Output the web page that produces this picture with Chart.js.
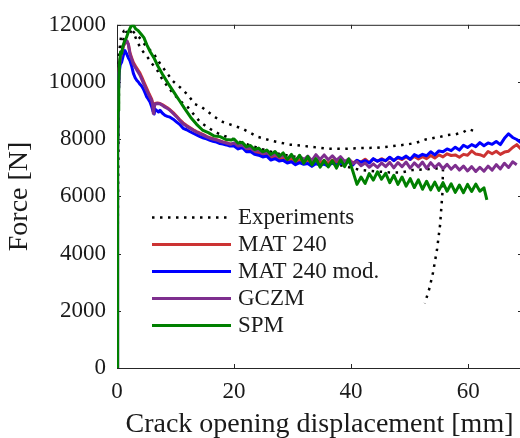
<!DOCTYPE html>
<html>
<head>
<meta charset="utf-8">
<script src="https://cdn.jsdelivr.net/npm/chart.js@4.4.0/dist/chart.umd.min.js"></script>
<style>
  html, body { margin: 0; padding: 0; background: #fff; overflow: hidden; }
  #wrap { width: 524px; height: 438px; }
</style>
</head>
<body>
<div id="wrap"><canvas id="chartForce" width="524" height="438"></canvas></div>
<script>
/* ---------------------------------- data ---------------------------------- */
// crack opening displacement [mm] / force [N]
const xTicks = [0, 20, 40, 60];
const yTicks = [0, 2000, 4000, 6000, 8000, 10000, 12000];

const expUpperD = [0, 0.15, 0.35, 0.8, 1.6, 2.6, 3.8, 4.9, 6.3, 7.5, 8.6, 9.45, 10.8, 12.0, 13.3,
  14.5, 15.6, 16.75, 18.1, 19.7, 21.4, 24.1, 26.7, 29.6, 32.1, 35.8, 38.6, 41.5, 44.4, 47.2,
  49.7, 51.2, 52.9, 55.2, 56.4, 57.8, 59.2, 60.0, 61.2];
const expUpperF = [0, 5500, 10200, 11350, 11750, 11790, 11560, 11270, 10980, 10600, 10300, 10050, 9810, 9570, 9230,
  9120, 8950, 8770, 8600, 8490, 8370, 8080, 7930, 7810, 7760, 7670, 7660, 7690, 7700, 7760,
  7820, 7880, 8000, 8080, 8140, 8170, 8250, 8350, 8280];

const expLowerD = [0, 0.1, 0.2, 0.34, 0.7, 1.2, 2.0, 2.9, 3.5, 4.3, 5.2, 6.0, 6.9, 7.7, 8.8,
  9.9, 11.0, 12.1, 13.2, 14.2, 15.9, 17.3, 18.8, 21, 24, 27, 30, 33, 36, 39,
  41.5, 44, 46.5, 48.5, 50.5, 52.9, 54.5, 55.7, 55.6, 55.2, 54.7, 54.0, 53.4, 52.6];
const expLowerF = [0, 5000, 9500, 11000, 11600, 11790, 11800, 11690, 11390, 11100, 10870, 10640, 10400, 10110, 9800,
  9530, 9300, 9120, 8850, 8600, 8360, 8200, 8080, 7900, 7700, 7520, 7400, 7300, 7180, 7050,
  6930, 6880, 6840, 6830, 6920, 6950, 6980, 6970, 6110, 5000, 4170, 3340, 2800, 2260];

// MAT 240 and GCZM share the same displacement steps before 20 mm
const headD = [0, 0.05, 0.1, 0.15, 0.2, 0.35, 0.55, 0.8, 1.08, 1.4, 1.7, 1.95, 2.22, 2.5, 2.8,
  3.2, 3.64, 3.9, 4.22, 4.6, 5.08, 5.5, 5.93, 6.1, 6.2, 6.3, 6.5, 6.9, 7.35, 7.8,
  8.2, 8.6, 9.06, 9.6, 10.2, 10.7, 11.3, 11.9, 12.5, 13.04, 13.6, 14.2, 14.75, 15.3, 15.9,
  16.5, 17.04, 17.6, 18.2, 18.8, 19.4];
const mat240HeadF = [0, 2500, 5000, 7500, 9300, 10400, 10800, 11000, 11250, 11380, 11420, 11320, 11020, 10850, 10680,
  10540, 10400, 10320, 10180, 10000, 9780, 9580, 9400, 9260, 8960, 9080, 9250, 9270, 9250, 9200,
  9150, 9100, 9030, 8930, 8800, 8690, 8570, 8480, 8400, 8330, 8270, 8210, 8160, 8100, 8050,
  8010, 7980, 7940, 7900, 7870, 7830];
const gczmHeadF = [0, 2500, 5000, 7500, 9300, 10400, 10800, 11000, 11250, 11400, 11440, 11300, 10970, 10800, 10620,
  10480, 10335, 10250, 10100, 9920, 9700, 9520, 9350, 9200, 8900, 9050, 9235, 9250, 9235, 9180,
  9120, 9080, 9006, 8900, 8780, 8660, 8540, 8450, 8380, 8310, 8250, 8190, 8140, 8080, 8030,
  8000, 7966, 7930, 7890, 7860, 7820];

const modHeadD = [0, 0.05, 0.1, 0.15, 0.2, 0.35, 0.55, 0.8, 1.1, 1.37, 1.65, 1.93, 2.2, 2.5, 2.8,
  3.1, 3.37, 3.65, 3.93, 4.2, 4.5, 4.8, 5.08, 5.35, 5.64, 5.9, 6.2, 6.35, 6.5, 6.8,
  7.1, 7.35, 7.8, 8.2, 8.6, 9.06, 9.6, 10.2, 10.7, 11.3, 11.9, 12.5, 13.1, 13.6, 14.2,
  14.8, 15.3, 15.9, 16.4, 17.0, 17.6, 18.1, 18.7, 19.3];
const modHeadF = [0, 2500, 5000, 7500, 9300, 10300, 10600, 10700, 10950, 11100, 10980, 10850, 10750, 10560, 10300,
  10150, 10060, 10000, 9920, 9860, 9760, 9620, 9480, 9400, 9300, 9150, 8960, 8880, 9050, 9000,
  8950, 9010, 8900, 8830, 8800, 8770, 8700, 8600, 8520, 8380, 8330, 8260, 8200, 8150, 8090,
  8040, 8010, 7960, 7930, 7900, 7850, 7830, 7800, 7760];

const spmHeadD = [0, 0.05, 0.1, 0.15, 0.2, 0.3, 0.45, 0.6, 0.8, 1.0, 1.3, 1.6, 2.0, 2.4, 2.8,
  3.2, 3.6, 4.1, 4.6, 5.1, 5.7, 6.3, 7.0, 7.8, 8.7, 9.6, 10.6, 11.6, 12.6, 13.6,
  14.6, 15.6, 16.6, 17.6, 18.6, 19.5];
const spmHeadF = [0, 2500, 5000, 7500, 9000, 10000, 10700, 11050, 11000, 11250, 11430, 11550, 11780, 11950, 11990,
  11850, 11800, 11680, 11550, 11300, 11050, 10850, 10550, 10260, 9960, 9680, 9370, 9060, 8760, 8520,
  8320, 8230, 8110, 8090, 7990, 7970];

// noisy part of the simulations, read at the same displacement steps
const tailD = [20, 20.7, 21.4, 22.1, 22.8, 23.5, 24.2, 24.9, 25.6, 26.3,
  27, 27.7, 28.4, 29.1, 29.8, 30.5, 31.2, 31.9, 32.6, 33.3,
  34, 34.7, 35.4, 36.1, 36.8, 37.5, 38.2, 38.9, 39.6, 40.3,
  41, 41.7, 42.4, 43.1, 43.8, 44.5, 45.2, 45.9, 46.6, 47.3,
  48, 48.7, 49.4, 50.1, 50.8, 51.5, 52.2, 52.9, 53.6, 54.3,
  55, 55.7, 56.4, 57.1, 57.8, 58.5, 59.2, 59.9, 60.6, 61.3,
  62, 62.7, 63.4, 64.1, 64.8, 65.5, 66.2, 66.9, 67.6, 68.3,
  69];
const mat240TailF = [7820, 7720, 7730, 7620, 7640, 7510, 7540, 7430, 7460, 7350,
  7390, 7300, 7330, 7250, 7300, 7210, 7270, 7190, 7260, 7170,
  7240, 7180, 7250, 7150, 7270, 7180, 7260, 7150, 7290, 7170,
  7250, 7200, 7300, 7180, 7300, 7230, 7320, 7240, 7360, 7260,
  7350, 7290, 7380, 7290, 7400, 7310, 7390, 7320, 7430, 7340,
  7450, 7380, 7490, 7430, 7450, 7370, 7470, 7440, 7590, 7480,
  7460, 7400, 7570, 7490, 7580, 7470, 7550, 7580, 7710, 7810,
  7660];
const modTailF = [7760, 7660, 7710, 7560, 7570, 7470, 7440, 7380, 7410, 7270,
  7320, 7240, 7260, 7170, 7210, 7110, 7180, 7120, 7150, 7050,
  7150, 7090, 7130, 7060, 7190, 7100, 7160, 7130, 7220, 7100,
  7260, 7190, 7250, 7170, 7320, 7230, 7290, 7250, 7370, 7250,
  7370, 7320, 7410, 7300, 7460, 7390, 7470, 7420, 7560, 7450,
  7590, 7560, 7660, 7600, 7720, 7620, 7790, 7710, 7810, 7740,
  7880, 7770, 7870, 7820, 7920, 7810, 8030, 8190, 8060, 7990,
  7880];
const gczmTailF = [7870, 7760, 7790, 7670, 7700, 7580, 7620, 7500, 7540, 7420,
  7490, 7370, 7440, 7320, 7420, 7280, 7400, 7280, 7410, 7250,
  7460, 7290, 7450, 7280, 7420, 7260, 7390, 7220, 7310, 7140,
  7220, 7070, 7170, 7020, 7140, 7010, 7170, 7040, 7190, 7000,
  7180, 7040, 7200, 6990, 7170, 7030, 7200, 6980, 7180, 7010,
  7150, 6970, 7120, 6950, 7090, 6920, 7060, 6890, 7040, 6870,
  7020, 6880, 7060, 6920, 7110, 6960, 7160, 7010, 7210, 7110];
const spmTailF = [8010, 7860, 7890, 7740, 7780, 7640, 7690, 7560, 7620, 7470,
  7570, 7400, 7520, 7290, 7470, 7230, 7440, 7160, 7390, 7100,
  7320, 7020, 7260, 7030, 7250, 6990, 7280, 7040, 7310, 6880,
  6420, 6680, 6450, 6800, 6570, 6860, 6600, 6810, 6480, 6740,
  6420, 6680, 6360, 6620, 6310, 6580, 6250, 6530, 6230, 6500,
  6210, 6480, 6180, 6440, 6140, 6400, 6130, 6420, 6170, 6430,
  6180, 6300];
const spmEndD = [63.2];
const spmEndF = [5880];

/* --------------------------------- helpers -------------------------------- */
const ink = "#1a1a1a";
const serif = '"Liberation Serif", "Times New Roman", serif';

function pairs(ds, fs) {
  const n = Math.min(ds.length, fs.length);
  const out = [];
  for (let i = 0; i < n; i++) out.push({ x: ds[i], y: fs[i] });
  return out;
}

// box around the axes with inward tick marks on all four sides
const boxTicks = {
  id: "boxTicks",
  beforeDatasetsDraw(chart) {
    const { ctx, chartArea: a, scales } = chart;
    const len = 4;
    ctx.save();
    ctx.strokeStyle = "#262626";
    ctx.lineWidth = 1;
    ctx.beginPath();
    ctx.moveTo(a.left + 0.5, a.top + 0.5);
    ctx.lineTo(a.right + 0.5, a.top + 0.5);
    ctx.lineTo(a.right + 0.5, a.bottom + 0.5);
    ctx.lineTo(a.left + 0.5, a.bottom + 0.5);
    ctx.closePath();
    xTicks.forEach((v) => {
      const px = Math.round(scales.x.getPixelForValue(v)) + 0.5;
      ctx.moveTo(px, a.bottom);
      ctx.lineTo(px, a.bottom - len);
      ctx.moveTo(px, a.top);
      ctx.lineTo(px, a.top + len);
    });
    yTicks.forEach((v) => {
      const py = Math.round(scales.y.getPixelForValue(v)) + 0.5;
      ctx.moveTo(a.left, py);
      ctx.lineTo(a.left + len, py);
      ctx.moveTo(a.right, py);
      ctx.lineTo(a.right - len, py);
    });
    ctx.stroke();
    ctx.restore();
  },
};

// legend inside the axes, lower left
const insideLegend = {
  id: "insideLegend",
  afterDraw(chart) {
    const { ctx } = chart;
    const x0 = 152, x1 = 231, tx = 238, top = 217, step = 27.1;
    const items = chart.data.datasets.filter((ds) => ds.inLegend);
    ctx.save();
    ctx.font = "23px " + serif;
    ctx.textAlign = "left";
    ctx.textBaseline = "middle";
    items.forEach((ds, i) => {
      const y = Math.round(top + i * step) + 0.5;
      ctx.beginPath();
      ctx.setLineDash(ds.borderDash || []);
      ctx.lineWidth = ds.borderWidth;
      ctx.strokeStyle = ds.borderColor;
      ctx.moveTo(x0, y);
      ctx.lineTo(x1, y);
      ctx.stroke();
      ctx.setLineDash([]);
      ctx.fillStyle = ink;
      ctx.fillText(ds.label, tx, y);
    });
    ctx.restore();
  },
};

/* ---------------------------------- chart --------------------------------- */
const data = {
  datasets: [
    {
      label: "Experiments",
      data: pairs(expUpperD, expUpperF),
      borderColor: "#000000",
      borderWidth: 2.5,
      borderDash: [2.5, 5.5],
      order: 6,
      inLegend: true,
    },
    {
      label: "Experiments",
      data: pairs(expLowerD, expLowerF),
      borderColor: "#000000",
      borderWidth: 2.5,
      borderDash: [2.5, 5.5],
      order: 5,
      inLegend: false,
    },
    {
      label: "MAT 240",
      data: pairs(headD, mat240HeadF).concat(pairs(tailD, mat240TailF)),
      borderColor: "#cc3333",
      borderWidth: 3,
      order: 4,
      inLegend: true,
    },
    {
      label: "MAT 240 mod.",
      data: pairs(modHeadD, modHeadF).concat(pairs(tailD, modTailF)),
      borderColor: "#0000ff",
      borderWidth: 3,
      order: 3,
      inLegend: true,
    },
    {
      label: "GCZM",
      data: pairs(headD, gczmHeadF).concat(pairs(tailD, gczmTailF)),
      borderColor: "#7e2f8e",
      borderWidth: 3,
      order: 2,
      inLegend: true,
    },
    {
      label: "SPM",
      data: pairs(spmHeadD, spmHeadF).concat(pairs(tailD, spmTailF), pairs(spmEndD, spmEndF)),
      borderColor: "#008000",
      borderWidth: 3,
      order: 1,
      inLegend: true,
    },
  ],
};

const config = {
  type: "line",
  data,
  plugins: [boxTicks, insideLegend],
  options: {
    responsive: false,
    animation: false,
    devicePixelRatio: 1,
    layout: { padding: { top: 22, right: 2, left: 0, bottom: 0 } },
    elements: {
      point: { radius: 0 },
      line: { tension: 0, fill: false, borderCapStyle: "butt", borderJoinStyle: "round" },
    },
    plugins: { legend: { display: false }, tooltip: { enabled: false } },
    scales: {
      x: {
        type: "linear",
        min: 0,
        max: 69.2,
        grid: { display: false, drawTicks: false },
        border: { display: false },
        afterBuildTicks: (s) => { s.ticks = xTicks.map((v) => ({ value: v })); },
        afterFit: (s) => { s.height = 70; },
        ticks: {
          padding: 10, color: ink, maxRotation: 0, autoSkip: false,
          font: { family: serif, size: 23 },
          callback: (v) => String(v),
        },
        title: {
          display: true,
          text: "Crack opening displacement [mm]",
          color: ink,
          font: { family: serif, size: 28, lineHeight: 1 },
          padding: { top: 0, bottom: -1 },
        },
      },
      y: {
        type: "linear",
        min: 0,
        max: 12000,
        grid: { display: false, drawTicks: false },
        border: { display: false },
        afterBuildTicks: (s) => { s.ticks = yTicks.map((v) => ({ value: v })); },
        afterFit: (s) => { s.width = 117; },
        ticks: {
          padding: 11, color: ink, autoSkip: false,
          font: { family: serif, size: 23 },
          callback: (v) => String(v),
        },
        title: {
          display: true,
          text: "Force [N]",
          color: ink,
          font: { family: serif, size: 28, lineHeight: 1 },
          padding: { top: 6, bottom: 0 },
        },
      },
    },
  },
};

const chartForce = new Chart(document.getElementById("chartForce"), config);
</script>
</body>
</html>
